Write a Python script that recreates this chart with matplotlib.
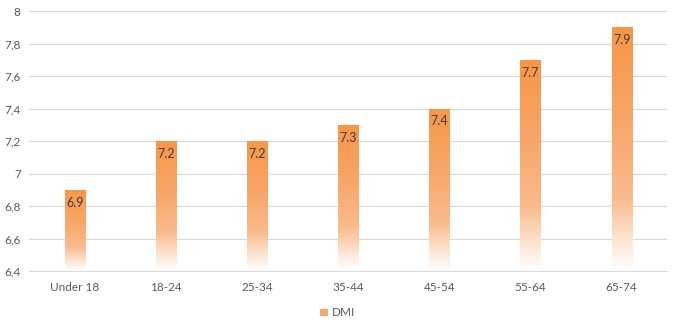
import matplotlib.pyplot as plt
import numpy as np
from matplotlib.colors import LinearSegmentedColormap
from matplotlib.patches import Patch

# Data
age_groups = ['Under 18', '18-24', '25-34', '35-44', '45-54', '55-64', '65-74']
dmi = [6.9, 7.2, 7.2, 7.3, 7.4, 7.7, 7.9]
y_ticks = [6.4, 6.6, 6.8, 7.0, 7.2, 7.4, 7.6, 7.8, 8.0]

plt.rcParams['font.family'] = ['Lato', 'DejaVu Sans']
text_color = '#595959'
grid_color = '#d9d9d9'

# orange at the top of each bar fading to white at the base
fade = LinearSegmentedColormap.from_list(
    'fade', [(0.0, '#ffffff'), (0.1, '#fdebdc'), (0.3, '#fabb8c'),
             (0.6, '#f8a76b'), (1.0, '#f79646')])

fig = plt.figure(figsize=(6.76, 3.25), dpi=100)
ax = fig.add_axes([0.043, 0.166, 0.944, 0.8])

x = np.arange(len(age_groups))
width = 0.22
ymin, ymax = 6.4, 8.0
grad = np.linspace(0, 1, 256).reshape(-1, 1)

bars = ax.bar(x, [v - ymin for v in dmi], width, bottom=ymin,
              facecolor='none', edgecolor='none', zorder=3)
for bar, val in zip(bars, dmi):
    x0 = bar.get_x()
    im = ax.imshow(grad, cmap=fade, origin='lower', aspect='auto',
                   extent=(x0, x0 + width, ymin, val), zorder=3)
    im.set_clip_path(bar)
    ax.annotate(f'{val:.1f}', (bar.get_x() + width / 2, val),
                xytext=(0, -5), textcoords='offset points',
                ha='center', va='top', fontsize=9, color='#404040', zorder=4)

ax.set_xlim(-0.5, len(age_groups) - 0.5)
ax.set_ylim(ymin, ymax)
ax.set_xticks(x)
ax.set_xticklabels(age_groups)
ax.set_yticks(y_ticks)
ax.set_yticklabels([f'{t:g}'.replace('.', ',') for t in y_ticks])
ax.tick_params(length=0, labelsize=8.5, colors=text_color, pad=8)
ax.tick_params(axis='y', pad=6)

ax.grid(axis='y', color=grid_color, linewidth=0.8, zorder=0)
ax.set_axisbelow(True)
for side in ['top', 'right', 'left']:
    ax.spines[side].set_visible(False)
ax.spines['bottom'].set_color(grid_color)
ax.spines['bottom'].set_linewidth(0.8)

handle = Patch(facecolor='#f9a76a', edgecolor='none')
fig.legend([handle], ['DMI'], loc='center', bbox_to_anchor=(0.5, 0.037),
           frameon=False, fontsize=8.5, labelcolor=text_color,
           handlelength=0.6, handleheight=0.6, handletextpad=0.4)

fig.savefig('out.png', dpi=100, facecolor='white')
